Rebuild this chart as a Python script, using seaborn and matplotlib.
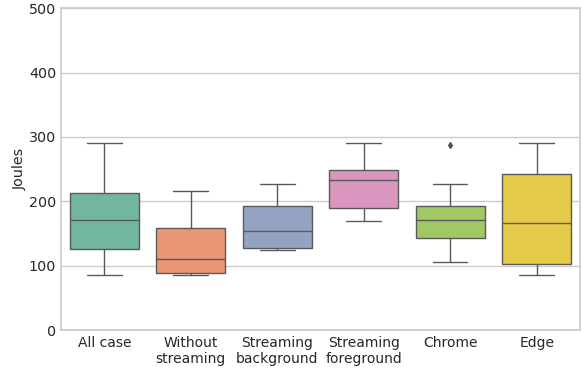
import numpy as np
import pandas as pd
import seaborn as sns
import matplotlib
matplotlib.use("Agg")
import matplotlib.pyplot as plt

categories = ["All case", "Without\nstreaming", "Streaming\nbackground",
              "Streaming\nforeground", "Chrome", "Edge"]

# Energy measurements (Joules) per scenario
all_case = [85, 105, 126, 150, 171, 190, 213, 250, 291]
without_streaming = [85, 87, 89, 100, 111, 135, 159, 190, 216]
streaming_background = [125, 127, 128, 140, 154, 175, 192, 210, 227]
streaming_foreground = [170, 180, 190, 215, 233, 240, 248, 270, 291]
chrome = [105, 125, 143, 160, 171, 182, 192, 227, 288]
edge = [85, 95, 103, 130, 166, 205, 242, 270, 291]

series = [all_case, without_streaming, streaming_background,
          streaming_foreground, chrome, edge]

df = pd.DataFrame({
    "case": np.repeat(categories, [len(s) for s in series]),
    "Joules": np.concatenate(series),
})

sns.set_theme(style="whitegrid")
plt.rcParams["font.family"] = ["DejaVu Sans"]

fig = plt.figure(figsize=(5.84, 3.70), dpi=100)
ax = fig.add_axes([0.1045, 0.108, 0.8885, 0.870])

sns.boxplot(data=df, x="case", y="Joules", hue="case", palette="Set2",
            legend=False, width=0.8, linewidth=1.0, ax=ax,
            flierprops=dict(marker="d", markersize=3,
                            markerfacecolor="#4d4d4d",
                            markeredgecolor="#4d4d4d"))

ax.set_ylim(0, 500)
ax.set_yticks([0, 100, 200, 300, 400, 500])
ax.set_xlabel("")
ax.set_ylabel("Joules", fontsize=10.3, labelpad=1.5)
ax.tick_params(axis="y", labelsize=10.3, length=3, color="#cccccc",
               width=1, pad=0.5)
ax.tick_params(axis="x", labelsize=10, length=0, pad=4)

fig.savefig("out.png", dpi=100)
